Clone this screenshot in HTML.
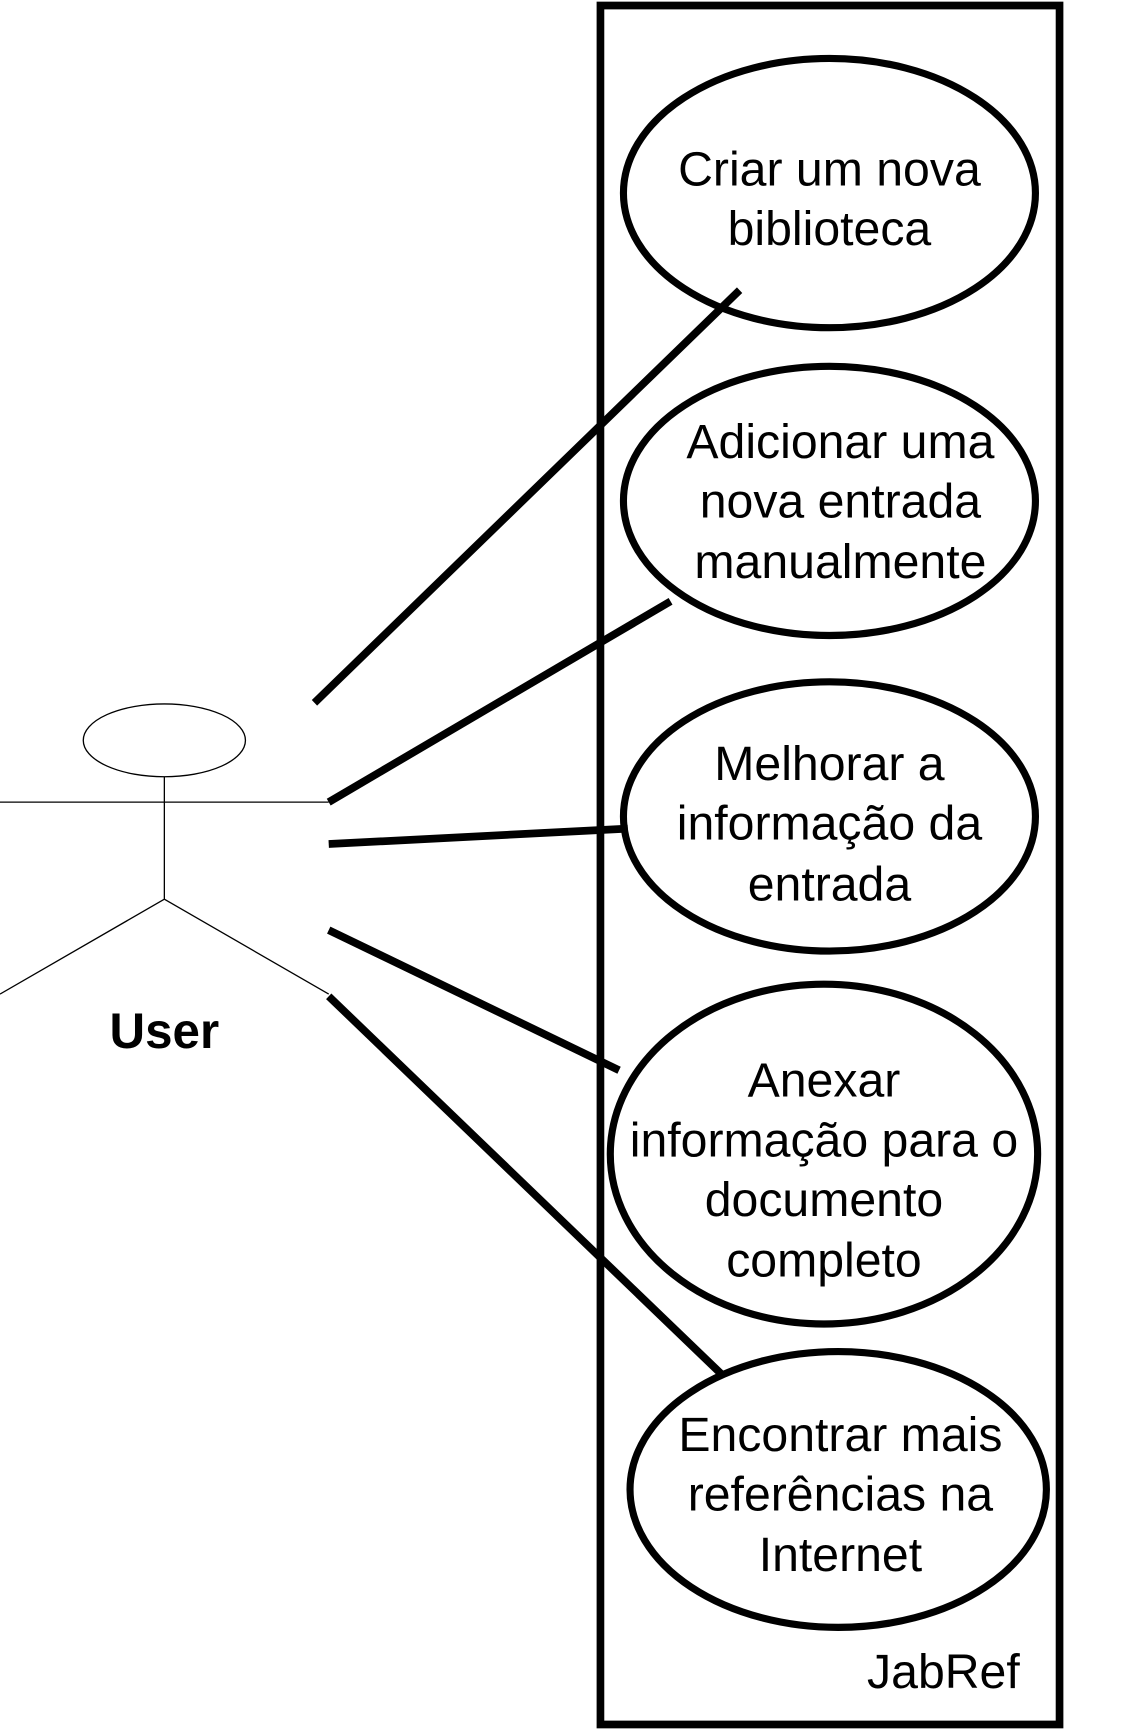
<!DOCTYPE html>
<html><head><meta charset="utf-8"><style>html,body{margin:0;padding:0;background:#fff}svg{display:block}</style></head>
<body>
<svg width="1122" height="1730" viewBox="0 0 1024 1568" preserveAspectRatio="none" xmlns="http://www.w3.org/2000/svg">
<rect x="0" y="0" width="1024" height="1568" fill="#fff"/>
<rect x="548" y="5" width="419" height="1558" fill="none" stroke="#000" stroke-width="7"/>
<g fill="none" stroke="#000" stroke-width="6.5">
<ellipse cx="757" cy="175" rx="188" ry="122"/>
<ellipse cx="757" cy="454" rx="188" ry="122"/>
<ellipse cx="757" cy="740" rx="188" ry="122"/>
<ellipse cx="752" cy="1046" rx="195" ry="154"/>
<ellipse cx="765" cy="1350" rx="190" ry="125"/>
</g>
<g stroke="#000" stroke-width="7">
<line x1="287" y1="637" x2="675" y2="263"/>
<line x1="300" y1="727" x2="612" y2="545"/>
<line x1="300" y1="765" x2="573" y2="751"/>
<line x1="300" y1="843" x2="565" y2="970"/>
<line x1="300" y1="903" x2="660" y2="1247"/>
</g>
<g fill="none" stroke="#000" stroke-width="1.2">
<ellipse cx="150" cy="671" rx="74" ry="33"/>
<line x1="0" y1="727" x2="300" y2="727"/>
<line x1="150" y1="704" x2="150" y2="815"/>
<line x1="150" y1="815" x2="0" y2="901"/>
<line x1="150" y1="815" x2="300" y2="901"/>
</g>
<g font-family="Liberation Sans, sans-serif" font-size="44" text-anchor="middle" fill="#000">
<text x="757" y="168">Criar um nova</text>
<text x="757" y="222">biblioteca</text>
<text x="767" y="415">Adicionar uma</text>
<text x="767" y="469">nova entrada</text>
<text x="767" y="524">manualmente</text>
<text x="757" y="707">Melhorar a</text>
<text x="757" y="761">informação da</text>
<text x="757" y="816">entrada</text>
<text x="752" y="994">Anexar</text>
<text x="752" y="1048">informação para o</text>
<text x="752" y="1102">documento</text>
<text x="752" y="1157">completo</text>
<text x="767" y="1315">Encontrar mais</text>
<text x="767" y="1369">referências na</text>
<text x="767" y="1424">Internet</text>
<text x="861" y="1530">JabRef</text>
<text x="150" y="950" font-weight="bold" font-size="45">User</text>
</g>
</svg>
</body></html>
